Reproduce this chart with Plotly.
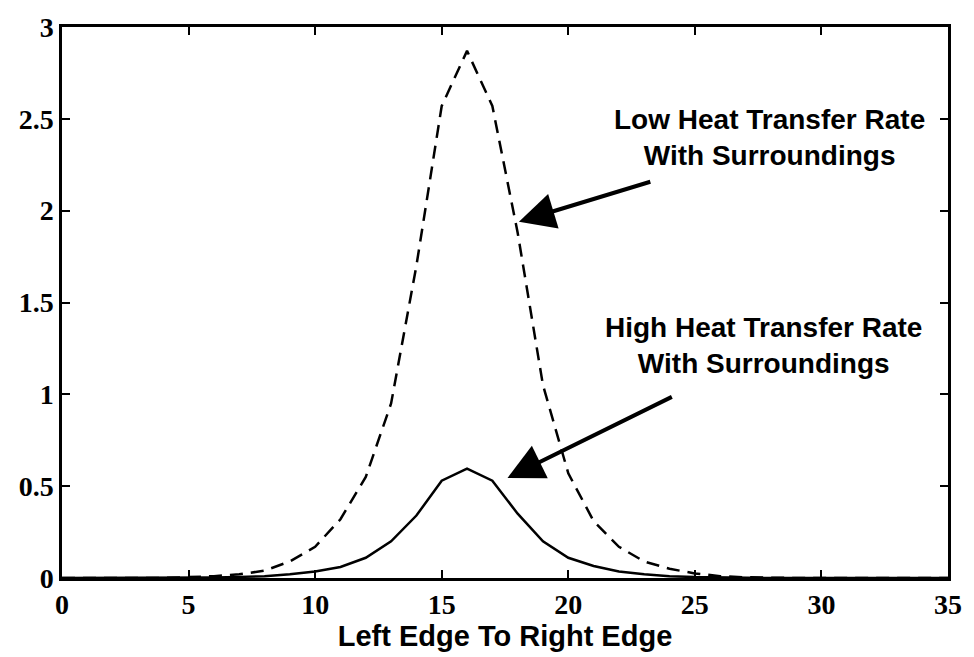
import plotly.graph_objects as go

x_pos = list(range(0, 36))
low_rate = [0, 0, 0, 0, 0, 0.005, 0.01, 0.02, 0.04, 0.09, 0.17, 0.32, 0.55, 0.95, 1.70, 2.57, 2.87,
            2.57, 1.88, 1.05, 0.57, 0.31, 0.17, 0.09, 0.05, 0.025, 0.01, 0.004, 0, 0, 0, 0, 0, 0, 0, 0]
high_rate = [0, 0, 0, 0, 0, 0, 0.003, 0.006, 0.01, 0.02, 0.035, 0.06, 0.11, 0.20, 0.34, 0.53, 0.595,
             0.53, 0.35, 0.20, 0.11, 0.065, 0.035, 0.02, 0.01, 0.005, 0.002, 0, 0, 0, 0, 0, 0, 0, 0, 0]

x_ticks = [0, 5, 10, 15, 20, 25, 30, 35]
y_ticks = [0, 0.5, 1, 1.5, 2, 2.5, 3]
y_tick_text = ["0", "0.5", "1", "1.5", "2", "2.5", "3"]

fig = go.Figure()
fig.add_trace(go.Scatter(x=x_pos, y=low_rate, mode="lines",
                         line=dict(color="black", width=2.5, dash="13px,8px"), showlegend=False))
fig.add_trace(go.Scatter(x=x_pos, y=high_rate, mode="lines",
                         line=dict(color="black", width=2.5), showlegend=False))

ann_font = dict(family="Liberation Sans, Arial, sans-serif", size=28, color="black", weight="bold")
for txt, xx, yy in [("Low Heat Transfer Rate<br>With Surroundings", 27.93, 2.40),
                    ("High Heat Transfer Rate<br>With Surroundings", 27.7, 1.265)]:
    fig.add_annotation(x=xx, y=yy, xref="x", yref="y", text=txt, showarrow=False,
                       font=ann_font, xanchor="center", yanchor="middle", align="center")

for head, tail in [((18.05, 1.94), (23.3, 2.16)), ((17.6, 0.545), (24.15, 0.99))]:
    fig.add_annotation(x=head[0], y=head[1], ax=tail[0], ay=tail[1], xref="x", yref="y",
                       axref="x", ayref="y", text="", showarrow=True, arrowhead=2,
                       arrowsize=1.8, arrowwidth=4, arrowcolor="black")

tick_font = dict(family="Liberation Serif, Times New Roman, serif", size=28, color="black",
                 weight="bold")
fig.update_xaxes(range=[0, 35], tickvals=x_ticks, ticks="inside", ticklen=8, tickwidth=2,
                 tickcolor="black", showline=True, linecolor="black", linewidth=2.5, mirror="ticks",
                 showgrid=False, zeroline=False, tickfont=tick_font,
                 title=dict(text="Left Edge To Right Edge", standoff=0,
                            font=dict(family="Liberation Sans, Arial, sans-serif", size=29,
                                      color="black", weight="bold")))
fig.update_yaxes(range=[0, 3], tickvals=y_ticks, ticktext=y_tick_text, ticks="inside", ticklen=8,
                 tickwidth=2, tickcolor="black", showline=True, linecolor="black", linewidth=2.5,
                 mirror="ticks", showgrid=False, zeroline=False, tickfont=tick_font)
fig.update_layout(width=974, height=657, plot_bgcolor="white", paper_bgcolor="white",
                  margin=dict(l=62, r=20, t=20, b=79), showlegend=False)
fig.write_html("out.html", config={"displayModeBar": False},
               post_script="document.body.style.margin='0';")
